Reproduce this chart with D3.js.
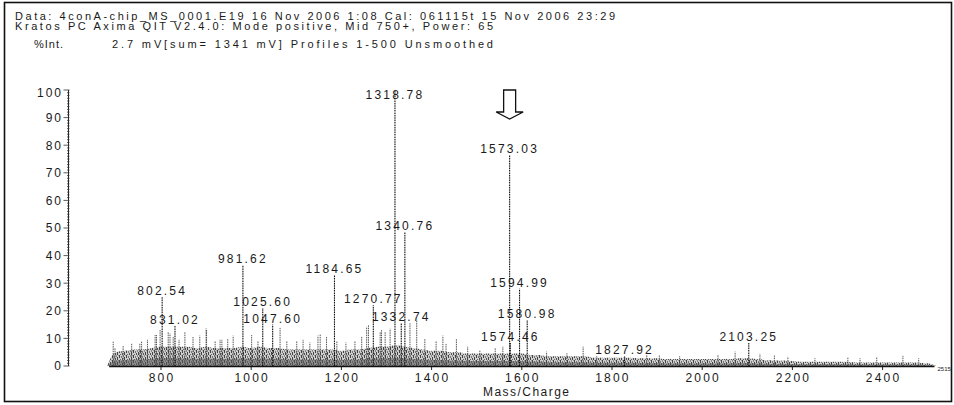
<!DOCTYPE html>
<html><head><meta charset="utf-8">
<script src="https://cdn.jsdelivr.net/npm/d3@7"></script>
<style>
html,body{margin:0;padding:0;background:#fff;}
svg{display:block;}
text{font-family:"Liberation Sans",Arial,sans-serif;fill:#1a1a1a;}
</style></head>
<body>
<svg id="c" width="954" height="405"></svg>
<script>
// ---------- DATA ----------
const headerLines = [
  "Data: 4conA-chip_MS_0001.E19 16 Nov 2006 1:08 Cal: 061115t 15 Nov 2006 23:29",
  "Kratos PC Axima QIT V2.4.0: Mode positive, Mid 750+, Power: 65"
];
const yAxisTitle = "%Int.";
const subTitle = "2.7 mV[sum= 1341 mV] Profiles 1-500 Unsmoothed";
const xAxisTitle = "Mass/Charge";
const xTicks = [800, 1000, 1200, 1400, 1600, 1800, 2000, 2200, 2400];
const yTicks = [0, 10, 20, 30, 40, 50, 60, 70, 80, 90, 100];
const xEndLabel = "2515";

// labelled peaks
const peakMz    = [802.54, 831.02, 981.62, 1025.60, 1047.60, 1184.65, 1270.77, 1318.78, 1332.74, 1340.76, 1573.03, 1574.46, 1594.99, 1612.0, 1827.92, 2103.25];
const peakInt   = [25, 14.5, 36.6, 21, 15, 33, 22, 100, 15.6, 48.6, 76.4, 8.3, 28, 16.7, 3.6, 8.3];
const peakLabel = ["802.54","831.02","981.62","1025.60","1047.60","1184.65","1270.77","1318.78","1332.74","1340.76","1573.03","1574.46","1594.99","1580.98","1827.92","2103.25"];
const arrowPeak = 1573.03;

// unlabelled minor peaks (m/z, %int)
const minorMz  = [694,698,716,735,753,757,770,787,790,798,816,820,827,840,853,871,886,900,901,920,931,935,948,960,1001,1015,1064,1079,1101,1115,1130,1148,1153,1167,1190,1210,1230,1245,1256,1260,1286,1289,1297,1308,1352,1367,1385,1410,1425,1432,1455,1480,1507,1541,1558,1655,1700,1736,1766,1877,1905,1950,2035,2073,2128,2160,2190,2250,2323,2350,2387,2445,2480];
const minorInt = [8.8,6.4,7.5,8.3,8.2,8.8,9.5,11.2,11.2,13,12.4,11.8,10.5,9.5,12.4,10.5,11,13.6,13,9,9.5,9.5,10,11,11.2,9,13.8,9,9,9.5,8.5,11,11.6,10.5,9,8.5,9,10.6,14.2,14.8,12.4,13,12.5,13.5,15.5,16.7,10,9,11,8,10,7,5.8,6.4,7,5.2,4.6,7,3.6,4,3.8,3.6,4,5.2,4.4,3.8,3.4,2.8,3,2.8,3.3,3.7,2.8];

// dense noise band envelope, sampled every 20 m/z from 680
const noiseMz = d3.range(680, 2521, 20);
const noiseInt = [0,5,5.5,6,6,6.5,7,7,7,7,6.5,7,6.5,6.5,6.5,7,6.5,7,6.5,6.5,6,6,6,6,6,6,5.5,6,6,6.5,7,7,7.5,7,6.5,6,5.5,5.5,5,5,4.5,4.5,4.5,4.5,4.5,4.5,4.5,4,4,3.5,3.5,3.5,3.5,3.5,3,3,3,3,3,2.8,2.8,2.8,2.5,2.5,2.5,2.5,2.5,2.5,2.5,2.5,2.8,2.8,2.5,2.2,2,2,1.8,1.5,1.5,1.5,1.5,1.5,1.5,1.3,1.3,1.3,1.3,1.3,1.3,1.3,1.2,1,0];

// ---------- DRAW ----------
const svg = d3.select("#c");
const x = d3.scaleLinear().domain([800, 2400]).range([161, 882.6]);
const y = d3.scaleLinear().domain([0, 100]).range([366, 90]);

// outer frame
svg.append("rect").attr("x", 4.5).attr("y", 2.5).attr("width", 947).attr("height", 399)
  .attr("fill", "none").attr("stroke", "#111").attr("stroke-width", 1.6);

// header
svg.append("text").attr("x", 15).attr("y", 19.5).attr("font-size", 11)
  .attr("textLength", 600).attr("lengthAdjust", "spacing").text(headerLines[0]);
svg.append("text").attr("x", 15).attr("y", 30).attr("font-size", 11)
  .attr("textLength", 478).attr("lengthAdjust", "spacing").text(headerLines[1]);
svg.append("text").attr("x", 34).attr("y", 48).attr("font-size", 11)
  .attr("letter-spacing", 1).text(yAxisTitle);
svg.append("text").attr("x", 112).attr("y", 48).attr("font-size", 11)
  .attr("textLength", 381).attr("lengthAdjust", "spacing").text(subTitle);

// mottled pattern for noise band (style only)
const defs = svg.append("defs");
const pat = defs.append("pattern").attr("id", "grass").attr("patternUnits", "userSpaceOnUse")
  .attr("width", 7).attr("height", 5);
pat.append("rect").attr("width", 7).attr("height", 5).attr("fill", "#cfcfcf");
[[0,0,1,3,"#444"],[2,1,1,2,"#777"],[3,3,1,2,"#555"],[4,0,1,2,"#888"],[5,2,1,3,"#444"],[6,0,1,1,"#999"],[1,4,1,1,"#666"]]
  .forEach(r => pat.append("rect").attr("x", r[0]).attr("y", r[1]).attr("width", r[2]).attr("height", r[3]).attr("fill", r[4]));

const noiseData = noiseMz.map((m, i) => [m, noiseInt[i]]);
svg.append("path").datum(noiseData)
  .attr("d", d3.area().x(d => x(d[0])).y0(y(0)).y1(d => y(d[1])).curve(d3.curveMonotoneX))
  .attr("fill", "url(#grass)");
svg.append("path").datum(noiseData)
  .attr("d", d3.area().x(d => x(d[0])).y0(y(0)).y1(d => y(d[1] * 0.4)).curve(d3.curveMonotoneX))
  .attr("fill", "#555").attr("opacity", 0.55);

// minor peaks
svg.append("g").selectAll("line").data(minorMz).join("line")
  .attr("x1", d => x(d)).attr("x2", d => x(d))
  .attr("y1", y(0)).attr("y2", (d, i) => y(minorInt[i]))
  .attr("stroke", "#444").attr("stroke-width", 0.9).attr("stroke-dasharray", "1.5,0.8");

// baseline
svg.append("line").attr("x1", x(685)).attr("x2", x(2515)).attr("y1", y(0) + 0.5).attr("y2", y(0) + 0.5)
  .attr("stroke", "#111").attr("stroke-width", 1.5);

// labelled peaks
const gp = svg.append("g");
peakMz.forEach((m, i) => {
  gp.append("line").attr("x1", x(m)).attr("x2", x(m)).attr("y1", y(0)).attr("y2", y(peakInt[i]))
    .attr("stroke", "#111").attr("stroke-width", 1.1).attr("stroke-dasharray", "1.6,0.8");
  gp.append("text").attr("x", x(m)).attr("y", Math.max(y(peakInt[i]) - 2, 98.5))
    .attr("text-anchor", "middle").attr("font-size", 12).attr("letter-spacing", 2.2)
    .text(peakLabel[i]);
});

// arrow
const ax = x(arrowPeak);
svg.append("path")
  .attr("d", `M${ax - 6},90 L${ax + 6},90 L${ax + 6},112 L${ax + 13.5},112 L${ax},119 L${ax - 13.5},112 L${ax - 6},112 Z`)
  .attr("fill", "#fff").attr("stroke", "#111").attr("stroke-width", 1.3);

// x axis ticks + labels
const gx = svg.append("g");
xTicks.forEach(t => {
  gx.append("line").attr("x1", x(t)).attr("x2", x(t)).attr("y1", y(0) + 1).attr("y2", y(0) + 4)
    .attr("stroke", "#222").attr("stroke-width", 1);
  gx.append("text").attr("x", x(t) + 1).attr("y", 381.5).attr("text-anchor", "middle")
    .attr("font-size", 12).attr("letter-spacing", 2.2).text(t);
});
svg.append("text").attr("x", 526).attr("y", 396).attr("text-anchor", "middle")
  .attr("font-size", 12).attr("textLength", 86).attr("lengthAdjust", "spacing").text(xAxisTitle);
svg.append("text").attr("x", x(2515) + 3).attr("y", 371).attr("font-size", 6).text(xEndLabel);

// y axis
const gy = svg.append("g");
gy.append("line").attr("x1", 68.5).attr("x2", 68.5).attr("y1", y(100)).attr("y2", y(0))
  .attr("stroke", "#222").attr("stroke-width", 1);
d3.range(0, 101, 1).forEach(v => {
  gy.append("line").attr("x1", 69.5).attr("x2", v % 10 === 0 ? 63.5 : 67)
    .attr("y1", y(v)).attr("y2", y(v)).attr("stroke", "#333").attr("stroke-width", 0.8);
});
yTicks.forEach(t => {
  gy.append("text").attr("x", 61).attr("y", (t === 100 ? y(t) + 3 : y(t)) + 4.3)
    .attr("text-anchor", "end").attr("font-size", 12).attr("letter-spacing", 2)
    .attr("dx", 2).text(t);
});
</script>
</body></html>
